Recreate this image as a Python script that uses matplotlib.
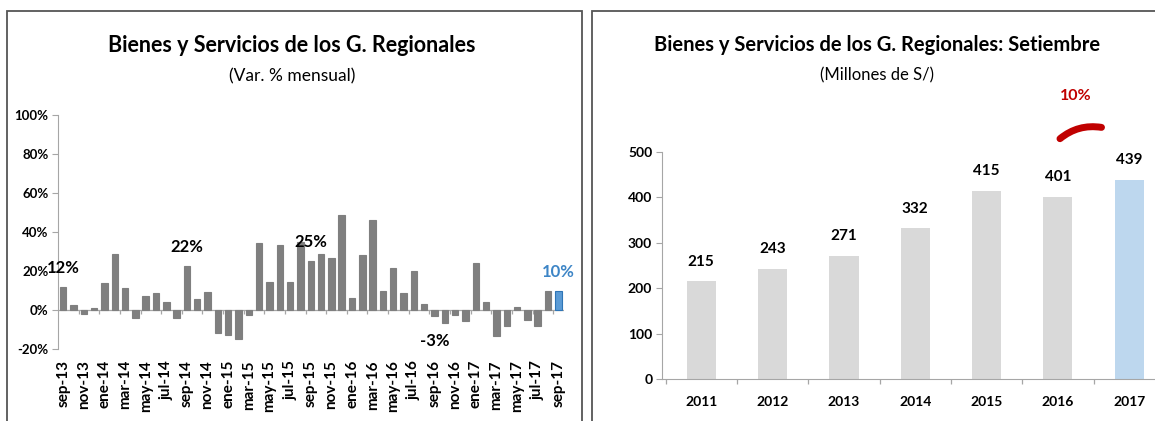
import matplotlib.pyplot as plt
from matplotlib.patches import Rectangle, FancyArrowPatch

plt.rcParams['font.family'] = ['Lato', 'DejaVu Sans']

# monthly variation (%) sep-13 .. sep-17
months = ['sep-13', 'oct-13', 'nov-13', 'dic-13', 'ene-14', 'feb-14', 'mar-14', 'abr-14',
          'may-14', 'jun-14', 'jul-14', 'ago-14', 'sep-14', 'oct-14', 'nov-14', 'dic-14',
          'ene-15', 'feb-15', 'mar-15', 'abr-15', 'may-15', 'jun-15', 'jul-15', 'ago-15',
          'sep-15', 'oct-15', 'nov-15', 'dic-15', 'ene-16', 'feb-16', 'mar-16', 'abr-16',
          'may-16', 'jun-16', 'jul-16', 'ago-16', 'sep-16', 'oct-16', 'nov-16', 'dic-16',
          'ene-17', 'feb-17', 'mar-17', 'abr-17', 'may-17', 'jun-17', 'jul-17', 'ago-17',
          'sep-17']
var_pct = [11.6, 2.4, -2.0, 1.0, 13.8, 28.9, 11.4, -4.0,
           7.0, 8.5, 3.9, -4.0, 22.5, 5.4, 9.4, -11.7,
           -12.6, -14.8, -2.5, 34.2, 14.6, 33.4, 14.6, 35.0,
           25.2, 28.9, 26.6, 48.5, 6.1, 28.1, 46.3, 9.9,
           21.3, 8.5, 19.9, 3.2, -3.3, -6.5, -2.7, -5.8,
           24.3, 3.9, -13.3, -8.2, 1.7, -4.9, -8.0, 9.9,
           9.5]
sep_labels = {0: '12%', 12: '22%', 24: '25%', 36: '-3%', 48: '10%'}

# September amounts (millions S/)
years = ['2011', '2012', '2013', '2014', '2015', '2016', '2017']
amounts = [215, 243, 271, 332, 415, 401, 439]
growth_label = '10%'

W, H = 1155, 421
fig = plt.figure(figsize=(W / 100, H / 100), dpi=100)

# panel frames
for x0, x1 in [(7, 582), (592, 1160)]:
    fig.patches.append(Rectangle((x0 / W, -0.05), (x1 - x0) / W, 1.05 - 11 / H,
                                 transform=fig.transFigure, fill=False,
                                 edgecolor='#555555', linewidth=1.3))

# ---------------- left chart ----------------
ax1 = fig.add_axes([58 / W, 1 - 349 / H, 506 / W, 234 / H])
x = list(range(len(months)))
cols = ['#7f7f7f'] * (len(months) - 1) + ['#5b9bd5']
edges = ['#7f7f7f'] * (len(months) - 1) + ['#2e75b6']
ax1.bar(x, var_pct, width=0.62, color=cols, edgecolor=edges, linewidth=0.8, zorder=2)
ax1.set_xlim(-0.5, len(months) - 0.45)
ax1.set_ylim(-20, 100)
ax1.set_yticks(range(-20, 101, 20))
ax1.set_yticklabels([f'{v}%' for v in range(-20, 101, 20)], fontsize=9.5, fontweight='bold')
ax1.set_xticks(x[::2])
ax1.set_xticklabels(months[::2], rotation=90, fontsize=11, fontweight='bold')
ax1.tick_params(axis='x', length=0, pad=8)
ax1.tick_params(axis='y', length=4, color='#a6a6a6', width=0.8, pad=3)
for s in ['top', 'right', 'bottom']:
    ax1.spines[s].set_visible(False)
ax1.spines['left'].set_color('#a6a6a6')
ax1.axhline(0, color='#a6a6a6', linewidth=0.9, zorder=1)
ax1.vlines([i + 0.5 for i in x[1::2]], -2, 0, color='#a6a6a6', linewidth=0.9, zorder=1)
for i, txt in sep_labels.items():
    v = var_pct[i]
    c = '#3d85c6' if i == len(months) - 1 else 'black'
    if v >= 0:
        ax1.annotate(txt, (i, v), xytext=(0, 8), textcoords='offset points',
                     ha='center', va='bottom', fontsize=12, fontweight='bold', color=c)
    else:
        ax1.annotate(txt, (i, v), xytext=(0, -12), textcoords='offset points',
                     ha='center', va='top', fontsize=12, fontweight='bold', color=c)

fig.text(292 / W, 1 - 45 / H, 'Bienes y Servicios de los G. Regionales',
         ha='center', va='center', fontsize=15.5, fontweight='bold')
fig.text(292 / W, 1 - 76 / H, '(Var. % mensual)', ha='center', va='center', fontsize=12.5)

# ---------------- right chart ----------------
ax2 = fig.add_axes([662 / W, 1 - 379 / H, 510 / W, 227 / H])
xr = list(range(len(years)))
rcols = ['#d9d9d9'] * (len(years) - 1) + ['#bdd7ee']
ax2.bar(xr, amounts, width=0.41, color=rcols, zorder=2)
ax2.set_xlim(-0.55, 6.6)
ax2.set_ylim(0, 500)
ax2.set_yticks(range(0, 501, 100))
ax2.set_yticklabels([str(v) for v in range(0, 501, 100)], fontsize=10, fontweight='bold')
ax2.set_xticks(xr)
ax2.set_xticklabels(years, fontsize=10, fontweight='bold')
ax2.tick_params(axis='x', length=0, pad=12)
ax2.tick_params(axis='y', length=4, color='#a6a6a6', width=0.8, pad=3)
for s in ['top', 'right']:
    ax2.spines[s].set_visible(False)
for s in ['left', 'bottom']:
    ax2.spines[s].set_color('#a6a6a6')
ax2.vlines([i - 0.5 for i in xr] + [6.5], -10, 0, color='#a6a6a6', linewidth=0.9, clip_on=False)
for i, v in enumerate(amounts):
    ax2.annotate(str(v), (i, v), xytext=(0, 9), textcoords='offset points',
                 ha='center', va='bottom', fontsize=11, fontweight='bold')

arc = FancyArrowPatch((len(years) - 2.0, amounts[-2] * 1.31), (len(years) - 1.35, amounts[-1] * 1.26),
                      connectionstyle='arc3,rad=-0.25', arrowstyle='-', color='#c00000',
                      linewidth=5, capstyle='round', clip_on=False, zorder=3)
ax2.add_patch(arc)
ax2.text(len(years) - 1.75, amounts[-1] * 1.42, growth_label, ha='center', va='center',
         fontsize=11.5, fontweight='bold', color='#c00000', clip_on=False)

fig.text(877 / W, 1 - 45 / H, 'Bienes y Servicios de los G. Regionales: Setiembre',
         ha='center', va='center', fontsize=14.5, fontweight='bold')
fig.text(877 / W, 1 - 75 / H, '(Millones de S/)', ha='center', va='center', fontsize=12)

fig.savefig('out.png', dpi=100)
